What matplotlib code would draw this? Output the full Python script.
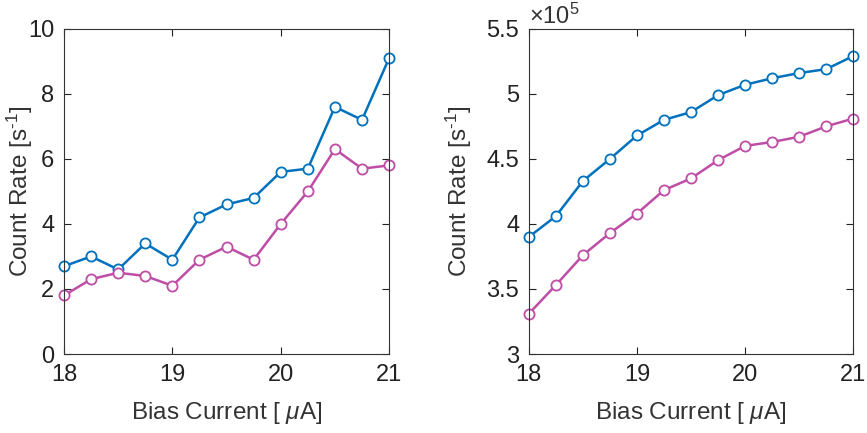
import matplotlib
matplotlib.use("Agg")
import matplotlib.pyplot as plt
from matplotlib.ticker import FuncFormatter

plt.rcParams['font.family'] = ['Liberation Sans', 'DejaVu Sans']
plt.rcParams['mathtext.fontset'] = 'custom'
plt.rcParams['mathtext.rm'] = 'Liberation Sans'
plt.rcParams['mathtext.it'] = 'Liberation Sans:italic'

# Bias current values (uA)
bias = [18.0, 18.25, 18.5, 18.75, 19.0, 19.25, 19.5, 19.75, 20.0, 20.25, 20.5, 20.75, 21.0]

# Left panel: dark count rates (s^-1)
dark_blue = [2.7, 3.0, 2.6, 3.4, 2.9, 4.2, 4.6, 4.8, 5.6, 5.7, 7.6, 7.2, 9.1]
dark_magenta = [1.8, 2.3, 2.5, 2.4, 2.1, 2.9, 3.3, 2.9, 4.0, 5.0, 6.3, 5.7, 5.8]

# Right panel: photon count rates (s^-1)
photon_blue = [3.90e5, 4.06e5, 4.33e5, 4.50e5, 4.68e5, 4.80e5, 4.86e5, 4.99e5,
               5.07e5, 5.12e5, 5.16e5, 5.19e5, 5.29e5]
photon_magenta = [3.31e5, 3.53e5, 3.76e5, 3.93e5, 4.08e5, 4.26e5, 4.35e5, 4.49e5,
                  4.60e5, 4.63e5, 4.67e5, 4.75e5, 4.81e5]

blue = '#0072BD'
magenta = '#BE4DA6'

fig = plt.figure(figsize=(8.67, 4.33), dpi=100)
ax1 = fig.add_axes([0.0738, 0.1824, 0.375, 0.751])
ax2 = fig.add_axes([0.610, 0.1824, 0.374, 0.751])

def style(ax, ylab_x):
    ax.tick_params(direction='in', top=True, right=True, length=5, width=0.8,
                   labelsize=17, colors='#222222', pad=7)
    for s in ax.spines.values():
        s.set_linewidth(0.8)
        s.set_color('#333333')
    ax.set_xlim(18, 21)
    ax.set_xticks([18, 19, 20, 21])
    ax.set_xlabel(r'Bias Current [ $\mu$A]', fontsize=17.5, color='#333333')
    ax.set_ylabel(r'Count Rate [s$^{\text{-}1}$]', fontsize=17.5, color='#333333')
    ax.xaxis.set_label_coords(0.5, -0.14)
    ax.yaxis.set_label_coords(ylab_x, 0.5)

mk = dict(marker='o', markersize=7.3, markerfacecolor='white', markeredgewidth=1.3, linewidth=1.8)

ax1.plot(bias, dark_blue, color=blue, **mk)
ax1.plot(bias, dark_magenta, color=magenta, **mk)
ax1.set_ylim(0, 10)
ax1.set_yticks([0, 2, 4, 6, 8, 10])
style(ax1, -0.09)

ax2.plot(bias, photon_blue, color=blue, **mk)
ax2.plot(bias, photon_magenta, color=magenta, **mk)
ax2.set_ylim(3e5, 5.5e5)
ax2.set_yticks([3e5, 3.5e5, 4e5, 4.5e5, 5e5, 5.5e5])
ax2.yaxis.set_major_formatter(FuncFormatter(lambda v, p: f'{v / 1e5:g}'))
style(ax2, -0.17)
ax2.text(0.0, 1.0, r'$\times\mathregular{10^5}$', transform=ax2.transAxes,
         fontsize=17, color='#333333', ha='left', va='bottom')

for ax in (ax1, ax2):
    for ln in ax.lines:
        ln.set_clip_on(False)

fig.savefig('out.png', dpi=100)
